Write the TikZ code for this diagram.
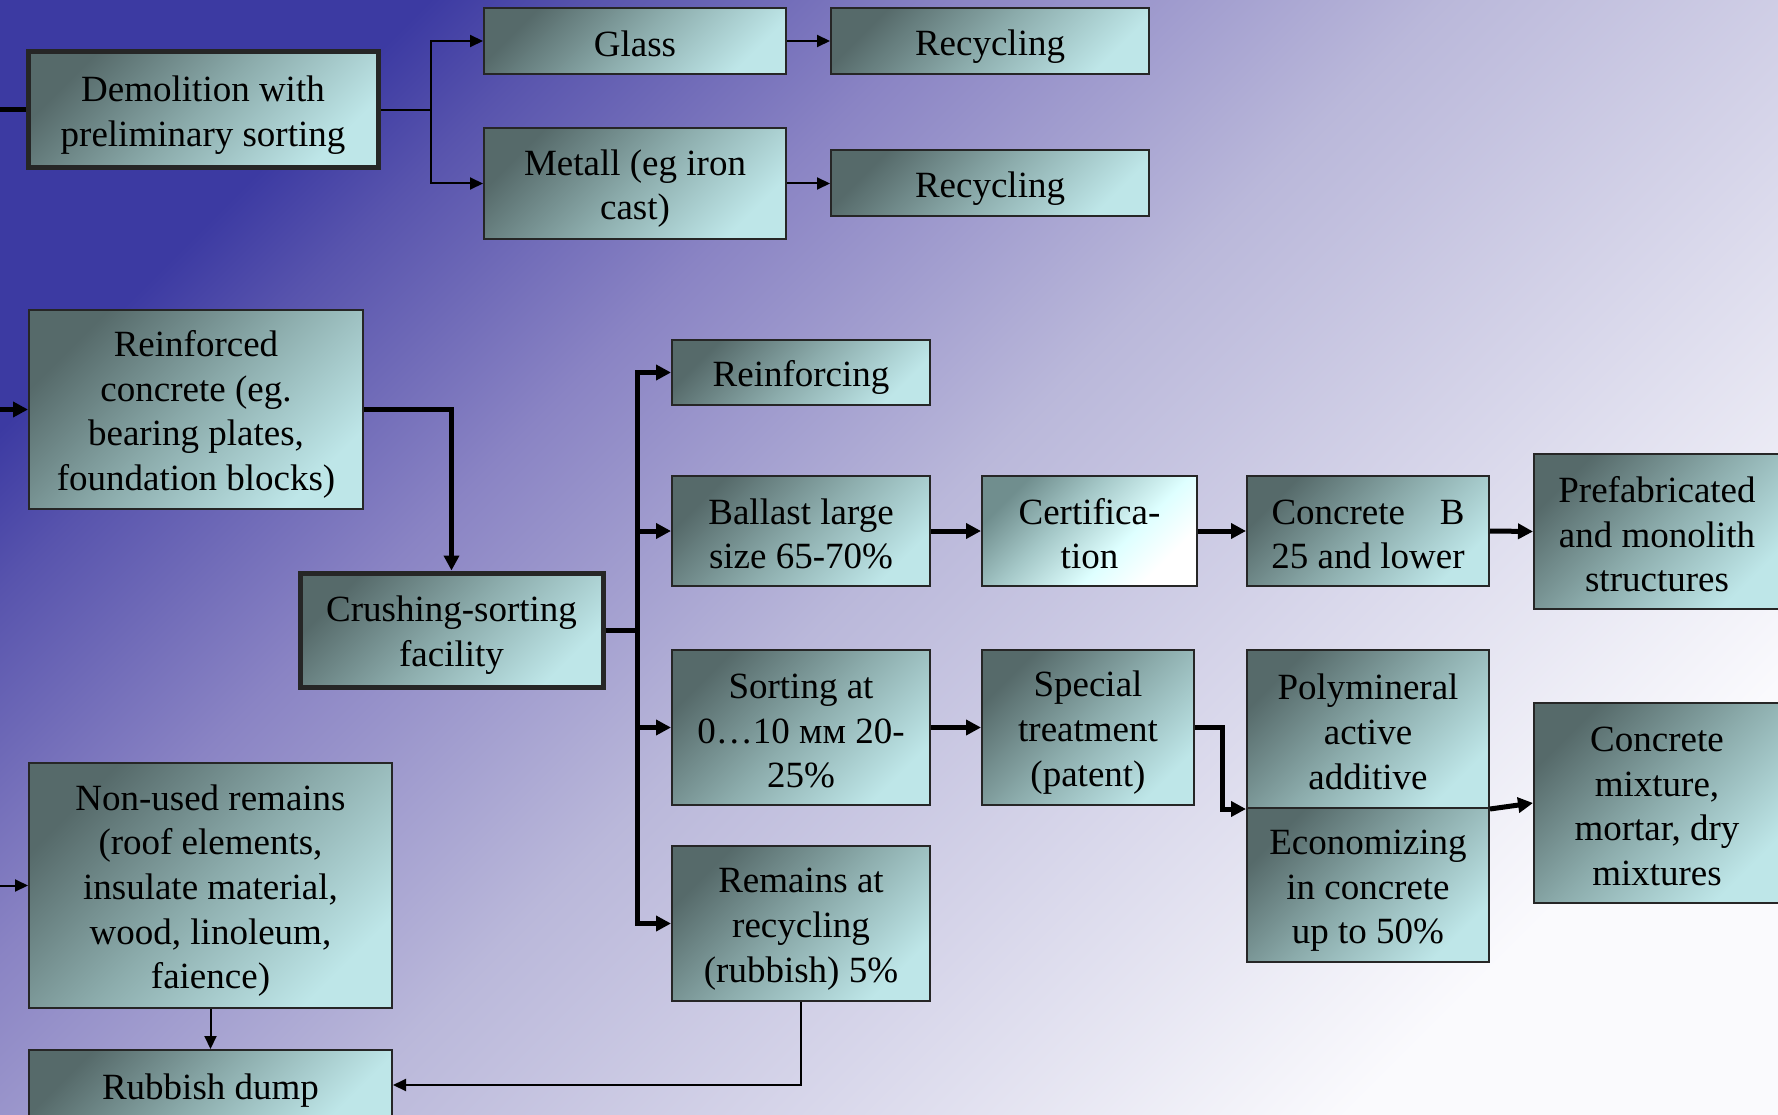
\documentclass[tikz,border=0pt]{standalone}
\usepackage{fontspec}
\setmainfont{Liberation Serif}
\newfontfamily\tnr{Liberation Serif}
\usetikzlibrary{arrows.meta}
\definecolor{bgA}{RGB}{60,58,162}
\definecolor{bgN}{RGB}{88,84,173}
\definecolor{bgM}{RGB}{138,132,196}
\definecolor{bgB}{RGB}{186,184,218}
\definecolor{bgC}{RGB}{250,250,253}
\definecolor{bxA}{RGB}{86,106,106}
\definecolor{bxB}{RGB}{140,172,172}
\definecolor{bxC}{RGB}{190,230,232}
\definecolor{ctA}{RGB}{112,142,142}
\definecolor{ctM}{RGB}{165,200,200}
\definecolor{ctB}{RGB}{222,255,255}
\pgfdeclareverticalshading{bgsh}{100bp}{color(0bp)=(bgC); color(25bp)=(bgC); color(50bp)=(bgB); color(62bp)=(bgM); color(71bp)=(bgN); color(75bp)=(bgA); color(100bp)=(bgA)}
\pgfdeclareverticalshading{certsh}{100bp}{color(0bp)=(white); color(27bp)=(white); color(40bp)=(ctB); color(58bp)=(ctM); color(75bp)=(ctA); color(100bp)=(ctA)}
\newcommand\lnstrut{\rule[-5pt]{0pt}{41pt}}
\begin{document}
\begin{tikzpicture}[x=1pt,y=-1pt,
  box/.style={draw=black!85, line width=2pt, top color=bxA, bottom color=bxC, middle color=bxB,
    shading angle=45, align=center, inner sep=0pt, text=black,
    font=\tnr\fontsize{37}{44.6}\selectfont,
    execute at end node=\lnstrut},
  heavybox/.style={box, line width=5pt},
  certbox/.style={box, shading=certsh, shading angle=45},
  tline/.style={line width=2pt, -{Triangle[length=13pt,width=12pt]}},
  kline/.style={line width=5pt, -{Triangle[length=15pt,width=15pt]}},
]
\path[use as bounding box, clip] (0,0) rectangle (1778,1115);
\shade[shading=bgsh, shading angle=45] (0,0) rectangle (1778,1115);

% top group
\node[heavybox, minimum width=350pt, minimum height=116pt] (demo) at (203,110) {\lnstrut Demolition with\\preliminary sorting};
\node[box, minimum width=302pt, minimum height=66pt] (glass) at (635,41) {\lnstrut Glass};
\node[box, minimum width=318pt, minimum height=66pt] (rec1) at (990,41) {\lnstrut Recycling};
\node[box, minimum width=302pt, minimum height=111pt] (metall) at (635,183.5) {\lnstrut Metall (eg iron\\cast)};
\node[box, minimum width=318pt, minimum height=66pt] (rec2) at (990,183.5) {\lnstrut Recycling};

% middle group
\node[box, minimum width=334pt, minimum height=199pt] (reinf) at (196,409.5) {\lnstrut Reinforced\\concrete (eg.\\bearing plates,\\foundation blocks)};
\node[heavybox, minimum width=303pt, minimum height=114pt] (crush) at (451.5,630) {\lnstrut Crushing-sorting\\facility};
\node[box, minimum width=258pt, minimum height=65pt] (reinforcing) at (801,372.5) {\lnstrut Reinforcing};
\node[box, minimum width=258pt, minimum height=110pt] (ballast) at (801,531) {\lnstrut Ballast large\\size 65-70\%};
\node[box, minimum width=258pt, minimum height=155pt] (sorting) at (801,727.5) {\lnstrut Sorting at\\0…10 мм 20-\\25\%};
\node[box, minimum width=258pt, minimum height=155pt] (remains) at (801,923.5) {\lnstrut Remains at\\recycling\\(rubbish) 5\%};
\node[certbox, minimum width=215pt, minimum height=110pt] (cert) at (1089.5,531) {\lnstrut Certifica-\\tion};
\node[box, minimum width=242pt, minimum height=110pt] (concb) at (1368,531) {\lnstrut Concrete\hspace{0.94em}B\\25 and lower};
\node[box, minimum width=246pt, minimum height=155pt] (prefab) at (1657,531.5) {\lnstrut Prefabricated\\and monolith\\structures};
\node[box, minimum width=212pt, minimum height=155pt] (special) at (1088,727.5) {\lnstrut Special\\treatment\\(patent)};
\node[box, minimum width=242pt, minimum height=158pt] (poly) at (1368,729) {\lnstrut Polymineral\\active\\additive};
\node[box, minimum width=242pt, minimum height=154pt] (econ) at (1368,885) {\lnstrut Economizing\\in concrete\\up to 50\%};
\node[box, minimum width=246pt, minimum height=200pt] (cmix) at (1657,803) {\lnstrut Concrete\\mixture,\\mortar, dry\\mixtures};

% bottom group
\node[box, minimum width=363pt, minimum height=245pt] (nonused) at (210.5,885.5) {\lnstrut Non-used remains\\(roof elements,\\insulate material,\\wood, linoleum,\\faience)};
\node[box, minimum width=363pt, minimum height=70pt] (rubbish) at (210.5,1085) {\lnstrut Rubbish dump};

% free ends and bends
\coordinate (inD) at (0,110);
\coordinate (inR) at (0,409.5);
\coordinate (inN) at (0,885.5);
\coordinate (busA) at (431,110);
\coordinate (busB) at (637,630);

% connectors
\draw[line width=5pt] (inD) -- (demo.west);
\draw[line width=2pt] (demo.east) -- (busA);
\draw[tline] (busA) |- (glass.west);
\draw[tline] (busA) |- (metall.west);
\draw[tline] (glass.east) -- (rec1.west);
\draw[tline] (metall.east) -- (rec2.west);

\draw[kline] (inR) -- (reinf.west);
\draw[kline] (reinf.east) -| (crush.north);
\draw[line width=5pt] (crush.east) -- (busB);
\draw[kline] (busB) |- (reinforcing.west);
\draw[kline] (busB) |- (ballast.west);
\draw[kline] (busB) |- (sorting.west);
\draw[kline] (busB) |- (remains.west);
\draw[kline] (ballast.east) -- (cert.west);
\draw[kline] (cert.east) -- (concb.west);
\draw[kline] (concb.east) -- (prefab.west);
\draw[kline] (sorting.east) -- (special.west);
\draw[kline] (special.east) -- ++(27,0) |- (poly.south west);
\draw[kline] (poly.south east) -- (cmix.west);

\draw[tline] (inN) -- (nonused.west);
\draw[tline] (nonused.south) -- (rubbish.north);
\draw[tline] (remains.south) |- (rubbish.east);
\end{tikzpicture}
\end{document}
